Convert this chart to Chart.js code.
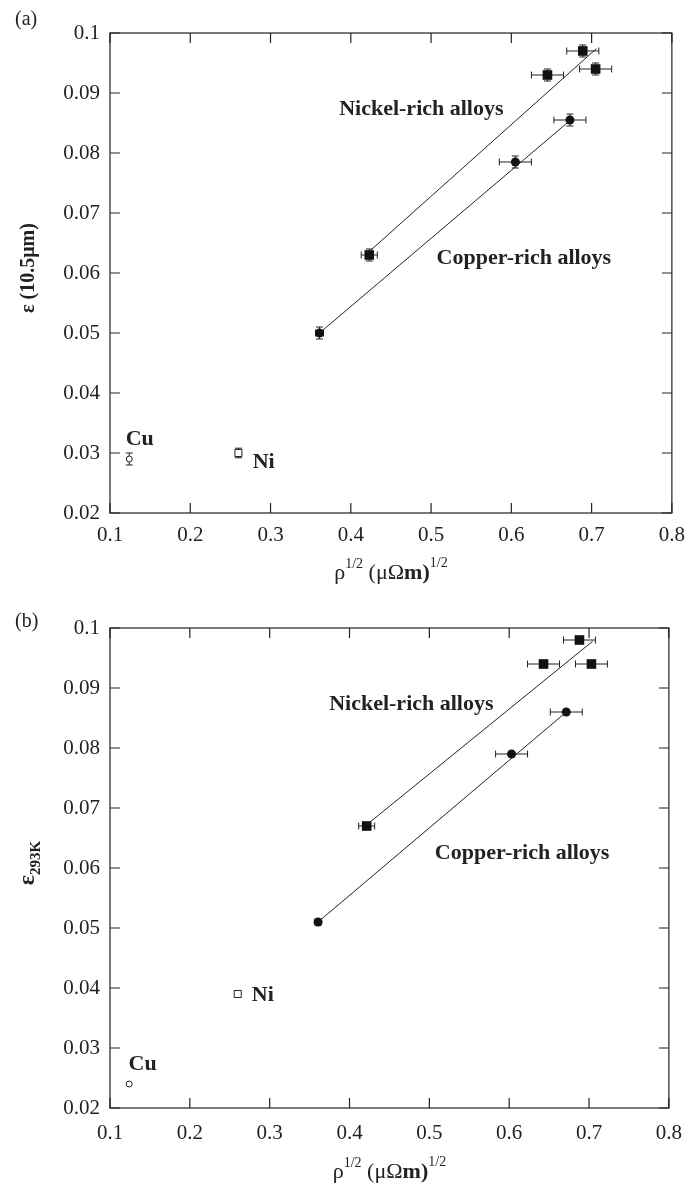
<!DOCTYPE html>
<html>
<head>
<meta charset="utf-8">
<script src="https://cdn.jsdelivr.net/npm/chart.js@4.4.1/dist/chart.umd.min.js"></script>
<style>
  body { margin: 0; background: #fff; }
  .panel { position: absolute; left: 0; width: 695px; height: 590px; }
</style>
</head>
<body>
<div class="panel" style="top:0"><canvas id="chartA" width="695" height="590"></canvas></div>
<div class="panel" style="top:595px"><canvas id="chartB" width="695" height="590"></canvas></div>
<script>
// Axis ticks
const xTicks = [0.1, 0.2, 0.3, 0.4, 0.5, 0.6, 0.7, 0.8];
const yTicks = [0.02, 0.03, 0.04, 0.05, 0.06, 0.07, 0.08, 0.09, 0.1];

// (a) emissivity at 10.5 um
const niRichA_x = [0.423, 0.645, 0.689, 0.705];
const niRichA_y = [0.063, 0.093, 0.097, 0.094];
const niRichA_xErr = [0.01, 0.02, 0.02, 0.02];
const niRichA_yErr = [0.001, 0.001, 0.001, 0.001];
const cuRichA_x = [0.361, 0.605, 0.673];
const cuRichA_y = [0.050, 0.0785, 0.0855];
const cuRichA_xErr = [0.005, 0.02, 0.02];
const cuRichA_yErr = [0.001, 0.001, 0.001];
const pureA_x = [0.124, 0.260];      // Cu, Ni
const pureA_y = [0.029, 0.030];
const pureA_yErr = [0.001, 0.0008];
const niFitA_x = [0.424, 0.706];
const niFitA_y = [0.0637, 0.0974];
const cuFitA_x = [0.361, 0.673];
const cuFitA_y = [0.050, 0.0854];

// (b) emissivity at 293 K
const niRichB_x = [0.4215, 0.643, 0.688, 0.703];
const niRichB_y = [0.067, 0.094, 0.098, 0.094];
const niRichB_xErr = [0.01, 0.02, 0.02, 0.02];
const cuRichB_x = [0.3606, 0.603, 0.6715];
const cuRichB_y = [0.051, 0.079, 0.086];
const cuRichB_xErr = [0.004, 0.02, 0.02];
const pureB_x = [0.124, 0.260];
const pureB_y = [0.024, 0.039];
const niFitB_x = [0.4215, 0.7046];
const niFitB_y = [0.0672, 0.0978];
const cuFitB_x = [0.3606, 0.6715];
const cuFitB_y = [0.051, 0.086];

const SERIF = '"Liberation Serif", "Times New Roman", serif';
const INK = '#222';

const pts = (xs, ys) => xs.map((v, i) => ({ x: v, y: ys[i] }));

// draws a row of text pieces (with super/subscripts) centred on cx
function drawRuns(ctx, runs, cx, cy) {
  let w = 0;
  runs.forEach(r => { ctx.font = r.font; w += ctx.measureText(r.text).width; });
  let x = cx - w / 2;
  ctx.textAlign = 'left';
  ctx.textBaseline = 'alphabetic';
  runs.forEach(r => {
    ctx.font = r.font;
    ctx.fillText(r.text, x, cy + (r.dy || 0));
    x += ctx.measureText(r.text).width;
  });
}

const decor = {
  id: 'decor',
  beforeDatasetsDraw(chart) {
    const { ctx, scales: { x, y } } = chart;
    ctx.save();
    ctx.strokeStyle = INK;
    ctx.lineWidth = 1;
    chart.data.datasets.forEach(ds => {
      if (!ds.xErr && !ds.yErr) return;
      ds.data.forEach((p, i) => {
        const px = x.getPixelForValue(p.x), py = y.getPixelForValue(p.y);
        const ex = ds.xErr ? ds.xErr[i] : 0, ey = ds.yErr ? ds.yErr[i] : 0;
        ctx.beginPath();
        if (ex) {
          const l = x.getPixelForValue(p.x - ex), r = x.getPixelForValue(p.x + ex);
          ctx.moveTo(l, py); ctx.lineTo(r, py);
          ctx.moveTo(l, py - 3.5); ctx.lineTo(l, py + 3.5);
          ctx.moveTo(r, py - 3.5); ctx.lineTo(r, py + 3.5);
        }
        if (ey) {
          const t = y.getPixelForValue(p.y + ey), b = y.getPixelForValue(p.y - ey);
          ctx.moveTo(px, t); ctx.lineTo(px, b);
          ctx.moveTo(px - 3.5, t); ctx.lineTo(px + 3.5, t);
          ctx.moveTo(px - 3.5, b); ctx.lineTo(px + 3.5, b);
        }
        ctx.stroke();
      });
    });
    ctx.restore();
  },
  afterDraw(chart) {
    const { ctx, chartArea: a, scales: { x, y } } = chart;
    const o = chart.options.plugins.decor;
    ctx.save();
    // frame with inward ticks on all four sides
    ctx.strokeStyle = INK;
    ctx.lineWidth = 1.2;
    ctx.strokeRect(a.left, a.top, a.right - a.left, a.bottom - a.top);
    ctx.beginPath();
    x.ticks.forEach(t => {
      const px = x.getPixelForValue(t.value);
      ctx.moveTo(px, a.bottom); ctx.lineTo(px, a.bottom - 10);
      ctx.moveTo(px, a.top); ctx.lineTo(px, a.top + 10);
    });
    y.ticks.forEach(t => {
      const py = y.getPixelForValue(t.value);
      ctx.moveTo(a.left, py); ctx.lineTo(a.left + 10, py);
      ctx.moveTo(a.right, py); ctx.lineTo(a.right - 10, py);
    });
    ctx.stroke();

    ctx.fillStyle = INK;
    // in-plot labels
    ctx.textAlign = 'left';
    ctx.textBaseline = 'middle';
    o.notes.forEach(n => {
      ctx.font = 'bold ' + n.size + 'px ' + SERIF;
      ctx.fillText(n.text, x.getPixelForValue(n.x), y.getPixelForValue(n.y));
    });

    // panel tag
    ctx.font = '20px ' + SERIF;
    ctx.fillText(o.tag, 15, o.tagY);

    // x title
    drawRuns(ctx, [
      { text: 'ρ', font: '22px ' + SERIF },
      { text: '1/2', font: '14px ' + SERIF, dy: -11 },
      { text: ' (μΩ', font: '22px ' + SERIF },
      { text: 'm)', font: 'bold 22px ' + SERIF },
      { text: '1/2', font: '14px ' + SERIF, dy: -12 }
    ], (a.left + a.right) / 2, o.xTitleY);

    // y title
    ctx.translate(o.yTitleX, (a.top + a.bottom) / 2 - 5);
    ctx.rotate(-Math.PI / 2);
    drawRuns(ctx, o.yTitle, 0, 0);
    ctx.restore();
  }
};

function makeChart(id, d) {
  return new Chart(document.getElementById(id), {
    type: 'scatter',
    data: {
      datasets: [
        { data: pts(d.niFitX, d.niFitY), type: 'line', showLine: true, borderColor: INK,
          borderWidth: 1, pointRadius: 0, fill: false },
        { data: pts(d.cuFitX, d.cuFitY), type: 'line', showLine: true, borderColor: INK,
          borderWidth: 1, pointRadius: 0, fill: false },
        { data: pts(d.niX, d.niY), xErr: d.niXErr, yErr: d.niYErr, pointStyle: 'rect',
          pointRadius: 6.8, backgroundColor: '#111', borderColor: '#111', borderWidth: 0 },
        { data: pts(d.cuX, d.cuY), xErr: d.cuXErr, yErr: d.cuYErr, pointStyle: 'circle',
          pointRadius: 4.5, backgroundColor: '#111', borderColor: '#111', borderWidth: 0 },
        { data: [{ x: d.pureX[0], y: d.pureY[0] }], yErr: d.pureYErr ? [d.pureYErr[0]] : null,
          pointStyle: 'circle', pointRadius: 3, backgroundColor: '#fff', borderColor: INK, borderWidth: 1 },
        { data: [{ x: d.pureX[1], y: d.pureY[1] }], yErr: d.pureYErr ? [d.pureYErr[1]] : null,
          pointStyle: 'rect', pointRadius: 5, backgroundColor: '#fff', borderColor: INK, borderWidth: 1 }
      ]
    },
    options: {
      responsive: false,
      animation: false,
      layout: { padding: { top: 33, right: 14, left: 0, bottom: 0 } },
      plugins: { legend: { display: false }, tooltip: { enabled: false }, decor: d.decor },
      scales: {
        x: {
          type: 'linear', min: 0.1, max: 0.8,
          afterBuildTicks: s => { s.ticks = xTicks.map(v => ({ value: v })); },
          afterFit: s => { s.height = 77; },
          grid: { display: false, drawTicks: false },
          border: { display: false },
          ticks: { padding: d.xPad, color: INK, font: { family: SERIF, size: 21 },
            callback: v => String(Math.round(v * 10) / 10) }
        },
        y: {
          type: 'linear', min: 0.02, max: 0.1,
          afterBuildTicks: s => { s.ticks = yTicks.map(v => ({ value: v })); },
          afterFit: s => { s.width = 110; },
          grid: { display: false, drawTicks: false },
          border: { display: false },
          ticks: { padding: 10, color: INK, font: { family: SERIF, size: 21 },
            callback: v => String(Math.round(v * 100) / 100) }
        }
      }
    },
    plugins: [decor]
  });
}

makeChart('chartA', {
  niX: niRichA_x, niY: niRichA_y, niXErr: niRichA_xErr, niYErr: niRichA_yErr,
  cuX: cuRichA_x, cuY: cuRichA_y, cuXErr: cuRichA_xErr, cuYErr: cuRichA_yErr,
  pureX: pureA_x, pureY: pureA_y, pureYErr: pureA_yErr,
  niFitX: niFitA_x, niFitY: niFitA_y, cuFitX: cuFitA_x, cuFitY: cuFitA_y,
  xPad: 10,
  decor: {
    tag: '(a)', tagY: 20, xTitleY: 579, yTitleX: 34,
    yTitle: [{ text: 'ε (10.5μm)', font: 'bold 20px ' + SERIF }],
    notes: [
      { text: 'Nickel-rich alloys', x: 0.3855, y: 0.0873, size: 22 },
      { text: 'Copper-rich alloys', x: 0.5069, y: 0.0625, size: 22 },
      { text: 'Cu', x: 0.1196, y: 0.0323, size: 22 },
      { text: 'Ni', x: 0.2777, y: 0.0285, size: 22 }
    ]
  }
});

makeChart('chartB', {
  niX: niRichB_x, niY: niRichB_y, niXErr: niRichB_xErr, niYErr: null,
  cuX: cuRichB_x, cuY: cuRichB_y, cuXErr: cuRichB_xErr, cuYErr: null,
  pureX: pureB_x, pureY: pureB_y, pureYErr: null,
  niFitX: niFitB_x, niFitY: niFitB_y, cuFitX: cuFitB_x, cuFitY: cuFitB_y,
  xPad: 13,
  decor: {
    tag: '(b)', tagY: 27, xTitleY: 583, yTitleX: 34,
    yTitle: [
      { text: 'ε', font: 'bold 24px ' + SERIF },
      { text: '293K', font: 'bold 15px ' + SERIF, dy: 6 }
    ],
    notes: [
      { text: 'Nickel-rich alloys', x: 0.3745, y: 0.0873, size: 22 },
      { text: 'Copper-rich alloys', x: 0.5069, y: 0.0625, size: 22 },
      { text: 'Cu', x: 0.1233, y: 0.0273, size: 22 },
      { text: 'Ni', x: 0.2777, y: 0.0387, size: 22 }
    ]
  }
});
</script>
</body>
</html>
